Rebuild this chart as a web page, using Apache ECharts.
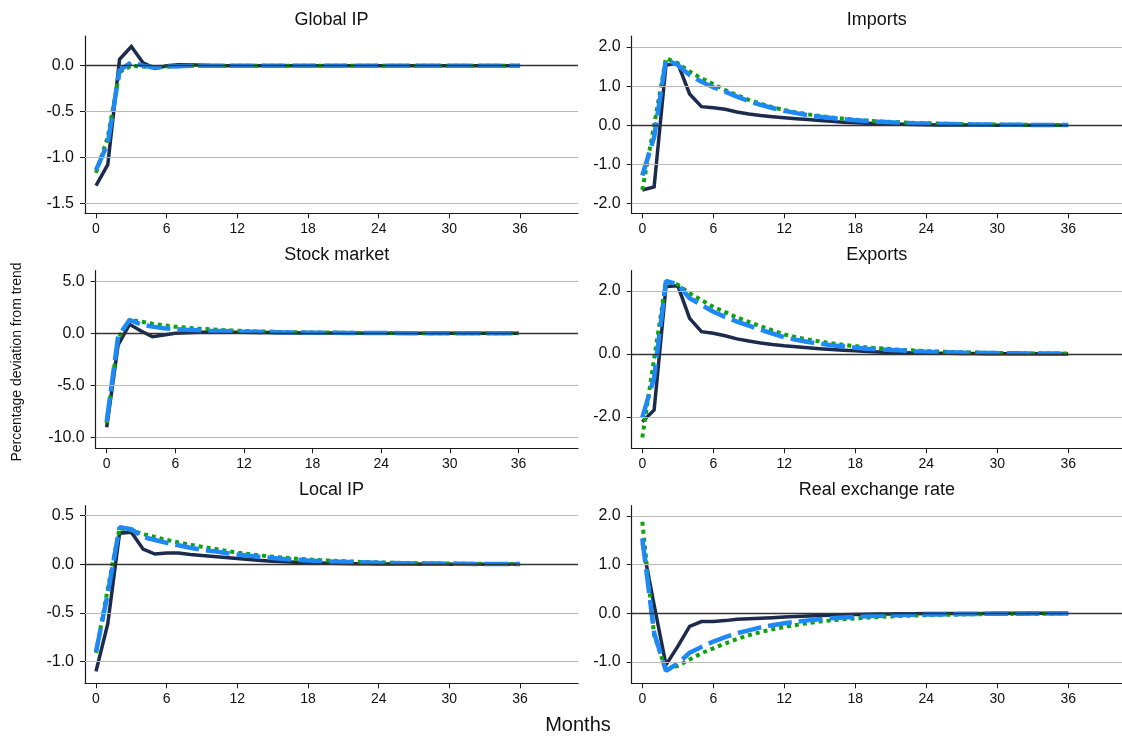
<!DOCTYPE html>
<html>
<head>
<meta charset="utf-8">
<script src="https://cdn.jsdelivr.net/npm/echarts@6/dist/echarts.min.js"></script>
<style>
html,body{margin:0;padding:0;background:#fff;}
#chart{width:1122px;height:738px;}
</style>
</head>
<body>
<div id="chart"></div>
<script>
// ---------------- DATA ----------------
const months = [0,1,2,3,4,5,6,7,8,9,10,11,12,13,14,15,16,17,18,19,20,21,22,23,24,25,26,27,28,29,30,31,32,33,34,35,36];
const xTickLabels = [0,6,12,18,24,30,36];

// Global IP
const globalIpSolid = [-1.31,-1.08,0.07,0.21,0.03,-0.03,0.0,0.01,0.01,0.005,0,0,0,0,0,0,0,0,0,0,0,0,0,0,0,0,0,0,0,0,0,0,0,0,0,0,0];
const globalIpDash  = [-1.14,-0.85,-0.05,0.035,0.0,-0.02,-0.01,-0.005,0,0,0,0,0,0,0,0,0,0,0,0,0,0,0,0,0,0,0,0,0,0,0,0,0,0,0,0,0];
const globalIpDot   = [-1.17,-0.78,-0.07,0.0,-0.01,-0.02,-0.01,-0.005,0,0,0,0,0,0,0,0,0,0,0,0,0,0,0,0,0,0,0,0,0,0,0,0,0,0,0,0,0];
const globalIpTicks = [-1.5,-1.0,-0.5,0.0];

// Imports
const importsSolid = [-1.65,-1.57,1.54,1.58,0.80,0.475,0.45,0.41,0.34,0.29,0.25,0.22,0.195,0.17,0.145,0.12,0.10,0.08,0.065,0.05,0.04,0.03,0.025,0.02,0.015,0.01,0.008,0.006,0.005,0.004,0.003,0.002,0.002,0.001,0.001,0.001,0.0];
const importsDash  = [-1.28,-0.30,1.68,1.54,1.28,1.11,0.97,0.86,0.73,0.62,0.52,0.44,0.37,0.31,0.26,0.22,0.185,0.155,0.13,0.11,0.09,0.077,0.065,0.055,0.046,0.039,0.033,0.027,0.023,0.019,0.016,0.013,0.011,0.009,0.008,0.006,0.005];
const importsDot   = [-1.65,0.0,1.71,1.58,1.37,1.20,1.05,0.90,0.77,0.65,0.55,0.46,0.39,0.33,0.28,0.235,0.20,0.17,0.14,0.12,0.10,0.085,0.072,0.06,0.05,0.043,0.036,0.03,0.025,0.021,0.018,0.015,0.012,0.01,0.009,0.007,0.006];
const importsTicks = [-2.0,-1.0,0.0,1.0,2.0];

// Stock market
const stockSolid = [-9.04,-1.12,0.86,0.22,-0.32,-0.16,0.0,0.06,0.09,0.10,0.10,0.10,0.09,0.08,0.07,0.06,0.05,0.04,0.035,0.03,0.025,0.02,0.015,0.012,0.01,0.008,0.006,0.005,0.004,0.003,0.002,0.002,0.001,0.001,0.0,0.0,0.0];
const stockDash  = [-8.5,-0.30,1.28,0.86,0.64,0.48,0.40,0.34,0.29,0.25,0.22,0.19,0.16,0.14,0.12,0.10,0.085,0.072,0.06,0.05,0.043,0.036,0.03,0.025,0.021,0.018,0.015,0.012,0.01,0.008,0.007,0.006,0.005,0.004,0.003,0.003,0.002];
const stockDot   = [-8.65,-0.50,1.30,1.12,0.92,0.77,0.64,0.54,0.45,0.38,0.32,0.27,0.23,0.19,0.16,0.135,0.115,0.097,0.082,0.07,0.06,0.05,0.042,0.036,0.03,0.025,0.021,0.018,0.015,0.013,0.011,0.009,0.008,0.007,0.006,0.005,0.004];
const stockTicks = [-10.0,-5.0,0.0,5.0];

// Exports
const exportsSolid = [-2.15,-1.78,2.14,2.17,1.13,0.71,0.66,0.58,0.48,0.41,0.35,0.30,0.26,0.23,0.20,0.17,0.14,0.12,0.10,0.08,0.065,0.05,0.04,0.035,0.03,0.025,0.02,0.015,0.012,0.01,0.008,0.006,0.005,0.004,0.003,0.002,0.002];
const exportsDash  = [-2.02,-0.75,2.32,2.21,1.77,1.56,1.34,1.18,1.03,0.90,0.77,0.65,0.53,0.45,0.38,0.33,0.28,0.24,0.20,0.17,0.15,0.13,0.11,0.09,0.075,0.064,0.054,0.046,0.039,0.033,0.028,0.024,0.02,0.017,0.014,0.012,0.01];
const exportsDot   = [-2.65,-0.15,2.30,2.20,1.93,1.71,1.50,1.33,1.16,1.02,0.88,0.75,0.62,0.53,0.46,0.40,0.34,0.29,0.25,0.21,0.18,0.155,0.13,0.11,0.09,0.078,0.066,0.056,0.047,0.04,0.034,0.029,0.024,0.02,0.017,0.015,0.012];
const exportsTicks = [-2.0,0.0,2.0];

// Local IP
const localIpSolid = [-1.10,-0.61,0.32,0.33,0.155,0.105,0.115,0.115,0.10,0.09,0.08,0.07,0.06,0.05,0.04,0.032,0.025,0.02,0.015,0.012,0.01,0.008,0.006,0.005,0.004,0.003,0.002,0.002,0.001,0.001,0.001,0.0,0.0,0.0,0.0,0.0,0.0];
const localIpDash  = [-0.90,-0.30,0.38,0.36,0.28,0.25,0.22,0.195,0.17,0.15,0.135,0.115,0.10,0.087,0.075,0.064,0.055,0.047,0.04,0.034,0.029,0.025,0.021,0.018,0.015,0.013,0.011,0.009,0.008,0.007,0.006,0.005,0.004,0.003,0.003,0.002,0.002];
const localIpDot   = [-0.91,-0.25,0.37,0.35,0.31,0.28,0.25,0.225,0.20,0.18,0.16,0.14,0.12,0.105,0.09,0.078,0.067,0.058,0.05,0.043,0.037,0.032,0.027,0.023,0.02,0.017,0.014,0.012,0.01,0.009,0.008,0.006,0.005,0.004,0.004,0.003,0.003];
const localIpTicks = [-1.0,-0.5,0.0,0.5];

// Real exchange rate
const rerSolid = [1.44,0.17,-1.06,-0.68,-0.27,-0.17,-0.17,-0.15,-0.12,-0.11,-0.10,-0.09,-0.075,-0.065,-0.055,-0.045,-0.038,-0.031,-0.025,-0.02,-0.016,-0.013,-0.01,-0.008,-0.006,-0.005,-0.004,-0.003,-0.002,-0.002,-0.001,-0.001,-0.001,0.0,0.0,0.0,0.0];
const rerDash  = [1.54,-0.40,-1.18,-1.03,-0.81,-0.69,-0.58,-0.49,-0.41,-0.35,-0.29,-0.245,-0.205,-0.172,-0.145,-0.122,-0.103,-0.087,-0.073,-0.062,-0.052,-0.044,-0.037,-0.031,-0.026,-0.022,-0.019,-0.016,-0.013,-0.011,-0.009,-0.008,-0.007,-0.006,-0.005,-0.004,-0.003];
const rerDot   = [1.88,-0.45,-1.165,-1.08,-0.95,-0.82,-0.72,-0.62,-0.53,-0.45,-0.385,-0.33,-0.28,-0.24,-0.20,-0.17,-0.145,-0.123,-0.104,-0.088,-0.075,-0.063,-0.053,-0.045,-0.038,-0.032,-0.027,-0.023,-0.019,-0.016,-0.014,-0.012,-0.01,-0.008,-0.007,-0.006,-0.005];
const rerTicks = [-1.0,0.0,1.0,2.0];

const panelTitles = ['Global IP','Imports','Stock market','Exports','Local IP','Real exchange rate'];
const xAxisTitle = 'Months';
const yAxisTitle = 'Percentage deviation from trend';

// ---------------- LAYOUT / STYLE ----------------
const FONT = '"Liberation Sans", Arial, sans-serif';
const C_SOLID = '#1c2b4d', C_DASH = '#1e88f5', C_DOT = '#0ea30e';

const panels = [
  {solid: globalIpSolid, dash: globalIpDash, dot: globalIpDot, ticks: globalIpTicks,
   yMin:-1.611, yMax:0.324, xMin:-0.934, xMax:40.92, l:85, t:36, r:578, b:213.3},
  {solid: importsSolid, dash: importsDash, dot: importsDot, ticks: importsTicks,
   yMin:-2.245, yMax:2.278, xMin:-0.896, xMax:40.55, l:631.7, t:36, r:1122, b:213.3},
  {solid: stockSolid, dash: stockDash, dot: stockDot, ticks: stockTicks,
   yMin:-11.06, yMax:6.02, xMin:-0.96, xMax:41.2, l:95.7, t:270.7, r:578, b:448.3},
  {solid: exportsSolid, dash: exportsDash, dot: exportsDot, ticks: exportsTicks,
   yMin:-2.994, yMax:2.644, xMin:-0.896, xMax:40.55, l:631.7, t:270.7, r:1122, b:448.3},
  {solid: localIpSolid, dash: localIpDash, dot: localIpDot, ticks: localIpTicks,
   yMin:-1.223, yMax:0.602, xMin:-0.934, xMax:40.92, l:85, t:505.7, r:578, b:683.3},
  {solid: rerSolid, dash: rerDash, dot: rerDot, ticks: rerTicks,
   yMin:-1.438, yMax:2.211, xMin:-0.896, xMax:40.55, l:631.7, t:505.7, r:1122, b:683.3}
];

const grids = [], xAxes = [], yAxes = [], series = [], graphics = [];
panels.forEach((p, i) => {
  grids.push({left: p.l, top: p.t, width: p.r - p.l, height: p.b - p.t, containLabel: false, outerBoundsMode: 'none'});
  xAxes.push({
    type: 'value', gridIndex: i, min: p.xMin, max: p.xMax,
    axisLine: {show: true, onZero: false, lineStyle: {color: '#1a1a1a', width: 1.2}},
    axisTick: {show: true, length: 5, customValues: xTickLabels, lineStyle: {color: '#1a1a1a', width: 1}},
    axisLabel: {show: true, customValues: xTickLabels, margin: 9, color: '#111', fontSize: 14, fontFamily: FONT},
    splitLine: {show: false}
  });
  yAxes.push({
    type: 'value', gridIndex: i, min: p.yMin, max: p.yMax,
    axisLine: {show: true, onZero: false, lineStyle: {color: '#1a1a1a', width: 1.2}},
    axisTick: {show: true, length: 5, customValues: p.ticks, lineStyle: {color: '#1a1a1a', width: 1}},
    axisLabel: {show: true, customValues: p.ticks, margin: 11, color: '#111', fontSize: 16, fontFamily: FONT,
      formatter: v => Number(v).toFixed(1)},
    splitLine: {show: false}
  });
  // grid lines + zero reference line
  series.push({
    type: 'line', xAxisIndex: i, yAxisIndex: i, data: [], z: 1, silent: true,
    markLine: {
      silent: true, symbol: ['none','none'], animation: false, label: {show: false},
      data: p.ticks.filter(v => v !== 0).map(v => ({yAxis: v, lineStyle: {color: '#b9b9b9', width: 1.2, type: 'solid'}}))
        .concat([{yAxis: 0, lineStyle: {color: '#333', width: 1.4, type: 'solid'}}])
    }
  });
  const mk = arr => months.map((m, k) => [m, arr[k]]);
  series.push({type: 'line', xAxisIndex: i, yAxisIndex: i, data: mk(p.solid), z: 2, showSymbol: false, animation: false,
    lineStyle: {color: C_SOLID, width: 3.5, cap: 'butt', join: 'miter'}});
  series.push({type: 'line', xAxisIndex: i, yAxisIndex: i, data: mk(p.dot), z: 3, showSymbol: false, animation: false,
    lineStyle: {color: C_DOT, width: 4, type: [4, 4], cap: 'butt'}});
  series.push({type: 'line', xAxisIndex: i, yAxisIndex: i, data: mk(p.dash), z: 4, showSymbol: false, animation: false,
    lineStyle: {color: C_DASH, width: 4.5, type: [24, 7], cap: 'butt'}});
  graphics.push({type: 'text', x: (p.l + p.r) / 2, y: p.t - 16,
    style: {text: panelTitles[i], fill: '#111', font: '18px ' + FONT, textAlign: 'center', textVerticalAlign: 'middle'}});
});
graphics.push({type: 'text', x: 578, y: 725,
  style: {text: xAxisTitle, fill: '#111', font: '20px ' + FONT, textAlign: 'center', textVerticalAlign: 'middle'}});
graphics.push({type: 'text', x: 17, y: 362, rotation: Math.PI / 2,
  style: {text: yAxisTitle, fill: '#111', font: '14px ' + FONT, textAlign: 'center', textVerticalAlign: 'middle'}});

const chart = echarts.init(document.getElementById('chart'), null, {renderer: 'canvas'});
chart.setOption({
  backgroundColor: '#fff',
  animation: false,
  grid: grids, xAxis: xAxes, yAxis: yAxes, series: series, graphic: graphics
});
</script>
</body>
</html>
